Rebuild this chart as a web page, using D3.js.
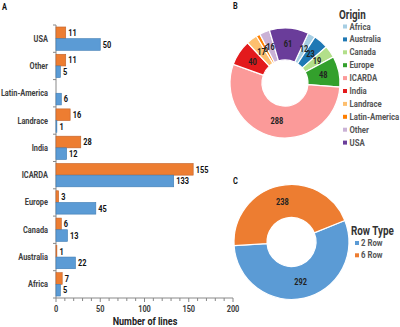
<!DOCTYPE html>
<html lang="en">
<head>
  <meta charset="UTF-8">
  <title>Origin and row type of lines</title>
  <script src="https://d3js.org/d3.v7.min.js"></script>
  <style>
    body { margin: 0; background: #fff; }
    svg { display: block; font-family: Roboto, "Liberation Sans", sans-serif; }
    .cat { font-size: 9px; font-weight: 700; fill: #404040; }
    .val { font-size: 9px; font-weight: 700; fill: #111; }
    .tick-lab { font-size: 9px; font-weight: 700; fill: #404040; }
    .panel { font-size: 9px; font-weight: 700; fill: #111; }
    .leg { font-size: 9.5px; font-weight: 700; fill: #555; }
    .leg-title { font-size: 12px; font-weight: 700; fill: #333; }
    .slice-lab { font-size: 9px; font-weight: 700; fill: #222; }
  </style>
</head>
<body>
  <svg width="400" height="327"></svg>

  <script>
    // bar panel (A)
    const categories = ["USA", "Other", "Latin-America", "Landrace", "India", "ICARDA", "Europe", "Canada", "Australia", "Africa"];
    const sixRow = [11, 11, 0, 16, 28, 155, 3, 6, 1, 7];
    const twoRow = [50, 5, 6, 1, 12, 133, 45, 13, 22, 5];
    const xTicks = [0, 50, 100, 150, 200];

    // origin donut (B)
    const origins = ["Africa", "Australia", "Canada", "Europe", "ICARDA", "India", "Landrace", "Latin-America", "Other", "USA"];
    const originCounts = [12, 23, 19, 48, 288, 40, 17, 6, 16, 61];
    const originColors = ["#a6cee3", "#1f78b4", "#b2df8a", "#33a02c", "#fb9a99", "#e31a1c", "#fdbf6f", "#ff7f00", "#cab2d6", "#6a3d9a"];

    // row type donut (C)
    const rowTypes = ["2 Row", "6 Row"];
    const rowCounts = [292, 238];
    const rowColors = ["#5b9bd5", "#ed7d31"];

    const svg = d3.select("svg");

    // ---------- A ----------
    svg.append("text").attr("class", "panel").attr("x", 2).attr("y", 10).text("A");

    const x = d3.scaleLinear().domain([0, 200]).range([56, 233]);
    const y = d3.scaleBand().domain(categories).range([25, 298]);
    const sub = d3.scaleBand().domain(["six", "two"]).range([0, y.bandwidth()]).paddingInner(0).paddingOuter(0.17);

    const gA = svg.append("g");

    // x axis with minor ticks
    const xAxis = gA.append("g").attr("transform", `translate(0,298)`);
    xAxis.append("line").attr("x1", x(0)).attr("x2", x(200)).attr("stroke", "#888");
    xAxis.selectAll(".minor").data(d3.range(0, 201, 10)).join("line")
      .attr("x1", d => x(d)).attr("x2", d => x(d))
      .attr("y1", 0).attr("y2", d => d % 50 === 0 ? 4 : 3)
      .attr("stroke", "#888");
    xAxis.selectAll(".tick-lab").data(xTicks).join("text")
      .attr("class", "tick-lab")
      .attr("x", d => x(d)).attr("y", 14)
      .attr("text-anchor", "middle")
      .text(d => d);

    svg.append("text")
      .attr("class", "axis-title")
      .attr("x", 145).attr("y", 325)
      .attr("text-anchor", "middle")
      .attr("font-size", 11).attr("font-weight", 700).attr("fill", "#222")
      .text("Number of lines");

    // y axis
    const yAxis = gA.append("g");
    yAxis.append("line").attr("x1", x(0)).attr("x2", x(0)).attr("y1", 25).attr("y2", 298).attr("stroke", "#888");
    yAxis.selectAll(".yt").data(d3.range(categories.length + 1)).join("line")
      .attr("x1", x(0) - 3).attr("x2", x(0))
      .attr("y1", i => 25 + i * y.step()).attr("y2", i => 25 + i * y.step())
      .attr("stroke", "#888");
    yAxis.selectAll(".cat").data(categories).join("text")
      .attr("class", "cat")
      .attr("x", 48).attr("y", d => y(d) + y.bandwidth() / 2 + 3)
      .attr("text-anchor", "end")
      .text(d => d);

    const rows = categories.map((c, i) => ({ c, six: sixRow[i], two: twoRow[i] }));
    const series = [
      { key: "six", color: "#ed7d31", stroke: "#c0622a" },
      { key: "two", color: "#5b9bd5", stroke: "#3f7cb3" }
    ];

    series.forEach(s => {
      gA.selectAll(".bar-" + s.key).data(rows.filter(r => r[s.key] > 0)).join("rect")
        .attr("x", x(0))
        .attr("y", r => y(r.c) + sub(s.key))
        .attr("width", r => Math.max(x(r[s.key]) - x(0), 0.8))
        .attr("height", sub.bandwidth())
        .attr("fill", s.color)
        .attr("stroke", s.stroke).attr("stroke-width", 0.6);
      gA.selectAll(".val-" + s.key).data(rows.filter(r => r[s.key] > 0)).join("text")
        .attr("class", "val")
        .attr("x", r => x(r[s.key]) + 2.5)
        .attr("y", r => y(r.c) + sub(s.key) + sub.bandwidth() / 2 + 3.3)
        .text(r => r[s.key]);
    });

    // ---------- donut helper ----------
    function donut(cx, cy, rOut, rIn, values, colors, startDeg) {
      const g = svg.append("g").attr("transform", `translate(${cx},${cy})`);
      const start = startDeg * Math.PI / 180;
      const pie = d3.pie().sort(null).startAngle(start).endAngle(start + 2 * Math.PI);
      const arcs = pie(values);
      const arc = d3.arc().innerRadius(rIn).outerRadius(rOut);
      const labArc = d3.arc().innerRadius((rIn + rOut) / 2).outerRadius((rIn + rOut) / 2);
      g.selectAll("path").data(arcs).join("path")
        .attr("d", arc)
        .attr("fill", (d, i) => colors[i])
        .attr("stroke", "#fff").attr("stroke-width", 1.2);
      g.selectAll(".slice-lab").data(arcs).join("text")
        .attr("class", "slice-lab")
        .attr("transform", d => `translate(${labArc.centroid(d)})`)
        .attr("text-anchor", "middle")
        .attr("dy", "0.35em")
        .text(d => d.data);
      return g;
    }

    function legend(x0, y0, title, names, colors, step, gap) {
      const g = svg.append("g");
      g.append("text").attr("class", "leg-title").attr("x", x0 - 4).attr("y", y0).text(title);
      const items = g.selectAll(".item").data(names).join("g")
        .attr("transform", (d, i) => `translate(${x0},${y0 + 11 + i * step})`);
      items.append("rect").attr("x", 0).attr("y", -5).attr("width", 4).attr("height", 4)
        .attr("fill", (d, i) => colors[i]);
      items.append("text").attr("class", "leg").attr("x", gap).attr("y", 0).text(d => d);
    }

    // ---------- B ----------
    svg.append("text").attr("class", "panel").attr("x", 233).attr("y", 9).text("B");
    donut(285, 83, 55, 23, originCounts, originColors, 25);
    legend(343, 18.5, "Origin", origins, originColors, 12.9, 6.5);

    // ---------- C ----------
    svg.append("text").attr("class", "panel").attr("x", 233).attr("y", 184).text("C");
    donut(291.5, 242, 57.5, 24.5, rowCounts, rowColors, 68);
    legend(355, 235, "Row Type", rowTypes, rowColors, 12.3, 6);

    // the original uses a narrow face (Calibri); squeeze the text to a similar width
    svg.selectAll("text").each(function () {
      const w = this.getComputedTextLength();
      if (w > 0) d3.select(this).attr("textLength", w * 0.82).attr("lengthAdjust", "spacingAndGlyphs");
    });
  </script>
</body>
</html>
